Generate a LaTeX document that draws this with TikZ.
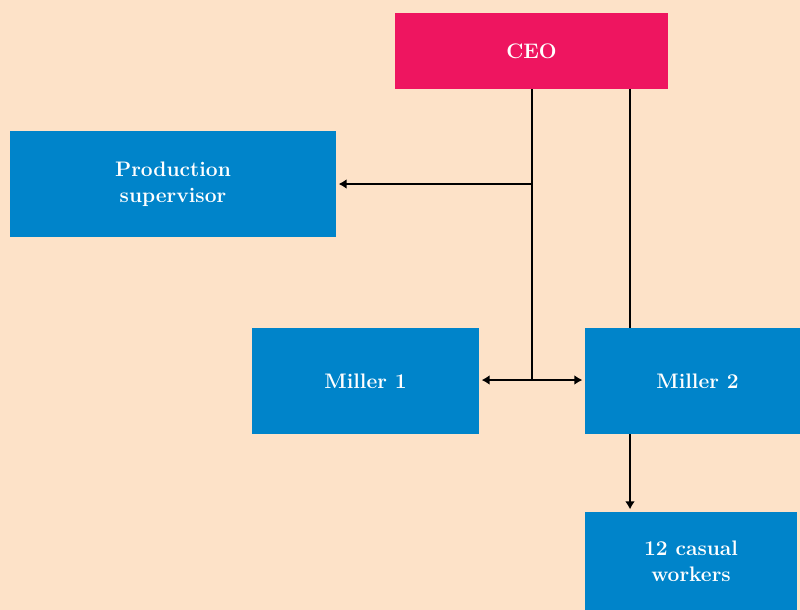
\documentclass[tikz,border=0pt]{standalone}
\usetikzlibrary{arrows.meta}
\definecolor{bgc}{HTML}{FDE2C8}
\definecolor{boxblue}{HTML}{0084CA}
\definecolor{ceopink}{HTML}{EE1560}
\begin{document}
\begin{tikzpicture}[x=1pt,y=-1pt,
  box/.style={fill=boxblue,draw=none,text=white,font=\fontsize{21}{26}\selectfont\bfseries,align=center,inner sep=0pt},
  conn/.style={line width=2pt,draw=black},
  tip/.style={-{Latex[length=8pt,width=10pt]},shorten >=2.5pt}
]
\fill[bgc] (0,0) rectangle (800,610);
\useasboundingbox (0,0) rectangle (800,610);
\node[box,fill=ceopink,minimum width=273pt,minimum height=76pt] (ceo) at (531.5,51) {CEO};
\node[box,minimum width=326pt,minimum height=106pt] (ps) at (173,184) {Production\\supervisor};
\node[box,minimum width=227pt,minimum height=106pt] (m1) at (365.5,381) {Miller 1};
\node[box,minimum width=215pt,minimum height=106pt] (m2) at (692.5,381) {\hspace*{10pt}Miller 2};
\node[box,minimum width=212pt,minimum height=98pt] (cw) at (691,561) {12 casual\\workers};
\coordinate (j1) at (532,184);
\coordinate (j2) at (532,380);
\coordinate (k) at (630,0);
\draw[conn] (ceo.south -| j1) -- (j2);
\draw[conn,tip] (j1) -- (ps.east |- j1);
\draw[conn,tip] (j2) -- (m2.west |- j2);
\draw[conn,tip] (j2) -- (m1.east |- j2);
\draw[conn] (ceo.south -| k) -- (m2.north -| k);
\draw[conn,tip] (m2.south -| k) -- (cw.north -| k);
\end{tikzpicture}
\end{document}
